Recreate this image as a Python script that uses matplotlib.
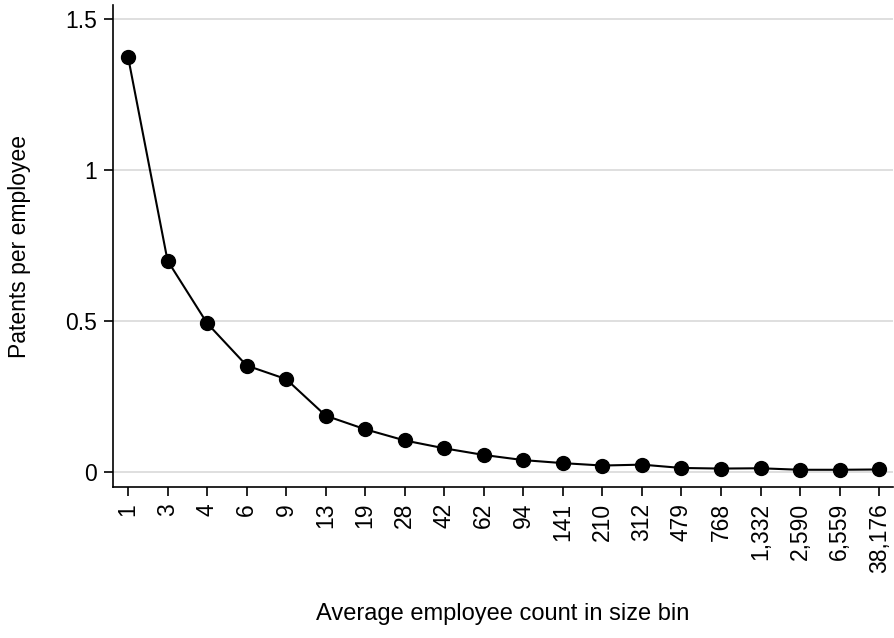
import matplotlib
matplotlib.use("Agg")
import matplotlib.pyplot as plt

categories = ["1", "3", "4", "6", "9", "13", "19", "28", "42", "62", "94", "141",
              "210", "312", "479", "768", "1,332", "2,590", "6,559", "38,176"]
values = [1.374, 0.699, 0.492, 0.352, 0.307, 0.186, 0.141, 0.104, 0.078, 0.056,
          0.039, 0.029, 0.021, 0.024, 0.013, 0.011, 0.012, 0.007, 0.007, 0.008]
yticks = [0, 0.5, 1, 1.5]
yticklabels = ["0", "0.5", "1", "1.5"]

plt.rcParams['font.family'] = ['Liberation Sans', 'DejaVu Sans']

W, H = 895, 638
fig = plt.figure(figsize=(W / 100, H / 100), dpi=100)
ax_h = 487 - 5
ax_w = 893 - 113
ax = fig.add_axes([113 / W, 1 - 487 / H, ax_w / W, ax_h / H])

x = list(range(len(categories)))
ax.plot(x, values, color="black", lw=1.5, marker="o", markersize=10, zorder=3)

ax.set_xlim(-0.38, len(categories) - 1 + 0.35)
ax.set_ylim(-0.05, 1.545)
ax.set_yticks(yticks)
ax.set_yticklabels(yticklabels)
ax.set_xticks(x)
ax.set_xticklabels(categories, rotation=90)
ax.grid(axis="y", color="#dcdcdc", lw=1.3)
ax.set_axisbelow(True)
for s in ["top", "right"]:
    ax.spines[s].set_visible(False)
for s in ["left", "bottom"]:
    ax.spines[s].set_linewidth(1.2)
ax.tick_params(axis="both", length=6.5, width=1.2, labelsize=16.5, pad=5)
ax.set_ylabel("Patents per employee", fontsize=16.5)
ax.set_xlabel("Average employee count in size bin", fontsize=17)
ax.yaxis.set_label_coords((31 - 113) / ax_w, 0.5)
ax.xaxis.set_label_coords(0.5, -(603 - 487) / ax_h)

fig.savefig("out.png", dpi=100)
